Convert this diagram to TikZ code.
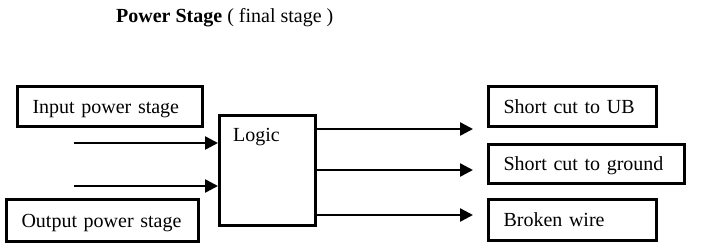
\documentclass[tikz,border=0pt]{standalone}
\usepackage{fontspec}
\setmainfont{Liberation Serif}
\usetikzlibrary{arrows.meta}

\begin{document}
\begin{tikzpicture}[x=1pt,y=-1pt,font=\fontsize{20}{23}\selectfont,
  box/.style={draw,line width=3pt,inner xsep=15pt,inner ysep=0pt,text depth=0pt,align=left,anchor=north west},
  arr/.style={line width=2.5pt,-{Triangle[length=13pt,width=13pt]}}]
\useasboundingbox (0,0) rectangle (704,250);

\node[anchor=base west,inner sep=0pt] (title) at (116,22) {\textbf{Power Stage} ( final stage )};

\node[box,minimum width=185pt,minimum height=40pt,text width=155pt] (inbox) at (16,85) {Input power stage};
\node[box,minimum width=192pt,minimum height=42pt,text width=162pt] (outbox) at (5,198) {Output power stage};
\node[box,minimum width=96pt,minimum height=110pt] (logic) at (218,114) {};
\node[anchor=base west,inner sep=0pt] (logictxt) at (233,141) {Logic};

\node[box,minimum width=168pt,minimum height=40pt,text width=138pt] (ub) at (487,85) {Short cut to UB};
\node[box,minimum width=196pt,minimum height=39pt,text width=166pt] (gnd) at (487,143) {Short cut to ground};
\node[box,minimum width=168pt,minimum height=41pt,text width=138pt] (wire) at (487,198) {Broken wire};

\coordinate (in1) at (74,143);
\coordinate (in2) at (74,186);
\coordinate (out1) at (473,129);
\coordinate (out2) at (473,170);
\coordinate (out3) at (473,215);

\draw[arr] (in1) -- (in1 -| logic.west);
\draw[arr] (in2) -- (in2 -| logic.west);
\draw[arr] (logic.east |- out1) -- (out1);
\draw[arr] (logic.east |- out2) -- (out2);
\draw[arr] (logic.east |- out3) -- (out3);

\end{tikzpicture}
\end{document}
